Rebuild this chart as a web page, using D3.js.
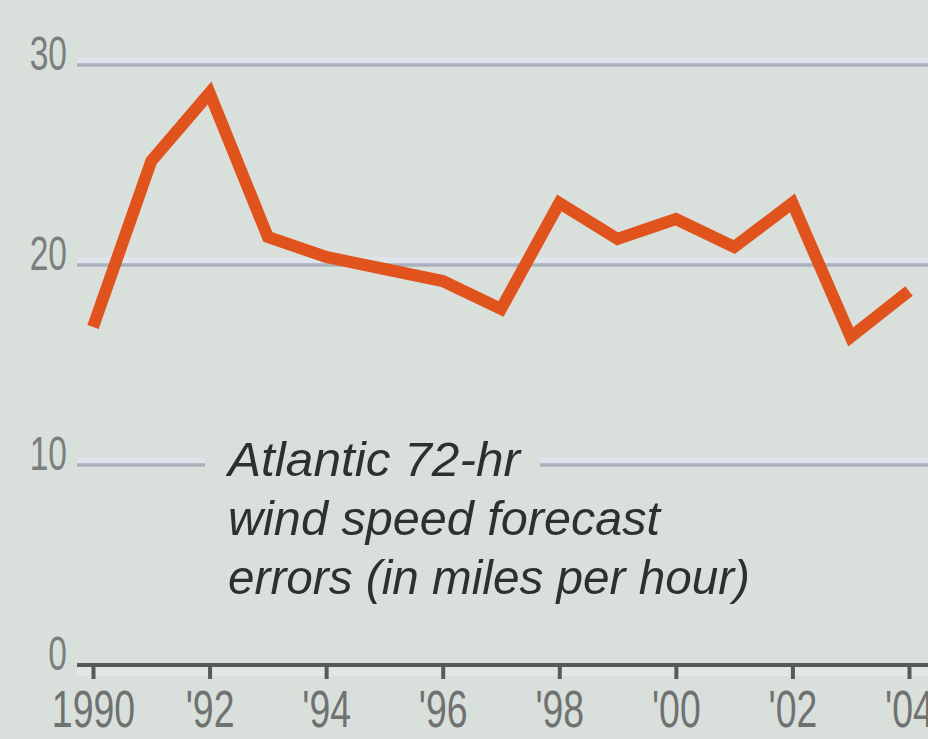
<!DOCTYPE html>
<html>
<head>
<meta charset="utf-8">
<script src="https://cdn.jsdelivr.net/npm/d3@7"></script>
<style>
  html, body { margin: 0; padding: 0; background: #d9e0dc; }
  svg { display: block; }
</style>
</head>
<body>
<svg id="chart" width="928" height="739"></svg>
<script>
// Atlantic 72-hour wind speed forecast errors, mph
const years = [1990, 1991, 1992, 1993, 1994, 1995, 1996, 1997, 1998, 1999, 2000, 2001, 2002, 2003, 2004];
const errors = [16.9, 25.2, 28.6, 21.4, 20.4, 19.8, 19.2, 17.8, 23.1, 21.3, 22.3, 20.9, 23.1, 16.4, 18.7];
const yTicks = [0, 10, 20, 30];
const xTickYears = [1990, 1992, 1994, 1996, 1998, 2000, 2002, 2004];
const xTickLabels = ["1990", "'92", "'94", "'96", "'98", "'00", "'02", "'04"];
const titleLines = ["Atlantic 72-hr", "wind speed forecast", "errors (in miles per hour)"];

const svg = d3.select("#chart");
const W = 928, H = 739;
const bg = "#d9e0dc";
const fontStack = "'Liberation Sans', Arial, sans-serif";

svg.append("rect").attr("width", W).attr("height", H).attr("fill", bg);

const x = d3.scaleLinear().domain([1990, 2004]).range([93, 909]);
const y = d3.scaleLinear().domain([0, 30]).range([665, 65]);

// horizontal gridlines (light band with a darker lower edge)
const grid = svg.append("g");
yTicks.filter(d => d > 0).forEach(d => {
  grid.append("rect")
    .attr("x", 77).attr("y", y(d) - 8).attr("width", W - 77).attr("height", 8)
    .attr("fill", "#dfe3ea");
  grid.append("line")
    .attr("x1", 77).attr("x2", W).attr("y1", y(d)).attr("y2", y(d))
    .attr("stroke", "#a9b1bd").attr("stroke-width", 3.5);
});

// y axis labels, condensed
const yAxis = d3.axisLeft(y).tickValues(yTicks).tickSize(0).tickPadding(0);
const yg = svg.append("g").attr("transform", "translate(67,0)").call(yAxis);
yg.select(".domain").remove();
yg.selectAll("text")
  .attr("x", 0).attr("dy", 0).attr("y", 4)
  .attr("transform", "scale(0.7,1)")
  .attr("font-family", fontStack).attr("font-size", 48)
  .attr("fill", "#7b7e7d").attr("text-anchor", "end");

// title block, with a patch of background behind it that interrupts the 10 gridline
const title = svg.append("g");
title.append("rect")
  .attr("x", 205).attr("y", y(10) - 14).attr("width", 335).attr("height", 24)
  .attr("fill", bg);
const titleX = 228, titleY0 = 476, lineGap = 59;
const titleWidths = [292, 432, 522];
titleLines.forEach((t, i) => {
  title.append("text")
    .attr("x", titleX).attr("y", titleY0 + i * lineGap)
    .attr("font-family", fontStack).attr("font-style", "italic")
    .attr("font-size", 49).attr("fill", "#2e2f2f")
    .attr("textLength", titleWidths[i]).attr("lengthAdjust", "spacingAndGlyphs")
    .text(t);
});

// baseline and x axis
svg.append("rect")
  .attr("x", 77).attr("y", y(0) + 2).attr("width", W - 77).attr("height", 9)
  .attr("fill", "#e2e6e5");
const xAxis = d3.axisBottom(x)
  .tickValues(xTickYears)
  .tickFormat((d, i) => xTickLabels[i])
  .tickSize(14).tickPadding(0);
const xg = svg.append("g").attr("transform", `translate(0,${y(0)})`).call(xAxis);
xg.select(".domain").remove();
xg.append("line")
  .attr("x1", 77).attr("x2", W).attr("y1", 0).attr("y2", 0)
  .attr("stroke", "#555a5a").attr("stroke-width", 4);
xg.selectAll(".tick line").attr("stroke", "#555a5a").attr("stroke-width", 4);
xg.selectAll(".tick text")
  .attr("y", 62).attr("dy", 0)
  .attr("transform", "scale(0.72,1)")
  .attr("font-family", fontStack).attr("font-size", 52)
  .attr("fill", "#6f7271");

// data line
const line = d3.line()
  .x((d, i) => x(years[i]))
  .y(d => y(d));
svg.append("path")
  .datum(errors)
  .attr("d", line)
  .attr("fill", "none")
  .attr("stroke", "#e0531c")
  .attr("stroke-width", 12)
  .attr("stroke-linejoin", "miter")
  .attr("stroke-linecap", "butt");
</script>
</body>
</html>
